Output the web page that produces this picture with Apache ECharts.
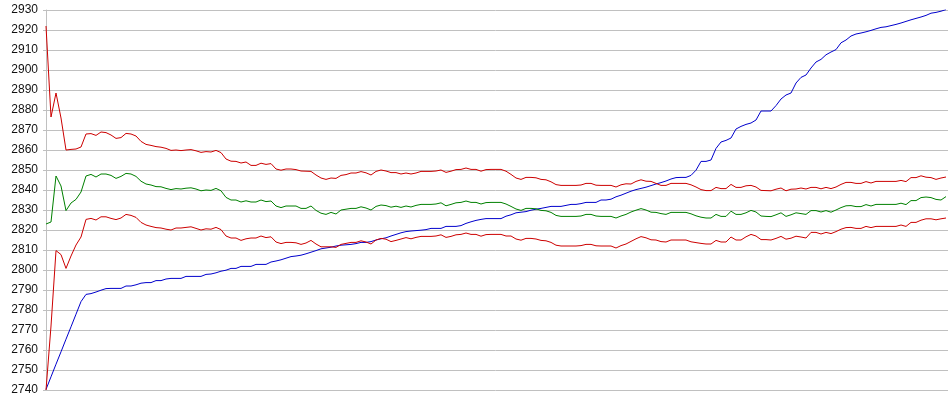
<!DOCTYPE html>
<html>
<head>
<meta charset="utf-8">
<script src="https://cdn.jsdelivr.net/npm/echarts@6/dist/echarts.min.js"></script>
<style>
html,body{margin:0;padding:0;background:#fff;}
#c{width:950px;height:415px;}
</style>
</head>
<body>
<div id="c"></div>
<script>
// y-axis ticks
const yTicks = [2740,2750,2760,2770,2780,2790,2800,2810,2820,2830,2840,2850,2860,2870,2880,2890,2900,2910,2920,2930];

// blue series
const blueValues = [
2740.3,2746.6,2752.9,2759.1,2765.4,2771.6,2777.9,2784.2,2787.8,2788.2,
2789,2789.9,2790.7,2790.8,2790.8,2790.8,2792,2792,2792.6,2793.4,
2793.7,2793.7,2794.7,2794.7,2795.5,2795.8,2795.8,2795.8,2796.8,2796.8,
2796.8,2796.8,2797.8,2798,2798.6,2799.4,2799.9,2800.8,2800.8,2801.8,
2801.8,2801.8,2802.8,2802.8,2802.8,2804,2804.5,2805.1,2805.9,2806.7,
2807,2807.4,2808.1,2808.9,2809.7,2810.6,2811,2811.4,2812,2812.4,
2812.6,2812.8,2813.2,2813.8,2813.8,2814.2,2815,2815.6,2816.1,2817,
2817.8,2818.6,2819.2,2819.5,2819.7,2819.9,2820.2,2820.8,2820.8,2820.8,
2821.8,2821.8,2821.8,2822.2,2823.3,2824.1,2824.8,2825.3,2825.7,2825.7,
2825.7,2825.7,2826.9,2827.6,2828.6,2828.9,2829.2,2829.9,2830.4,2830.8,
2831.3,2831.8,2831.8,2831.8,2832.3,2832.8,2832.8,2833.2,2833.8,2833.8,
2833.8,2835,2835,2835.4,2836.6,2837.4,2838.4,2839.4,2840.2,2840.8,
2841.4,2842.2,2843,2843.7,2844.5,2845.5,2846.2,2846.3,2846.3,2847.3,
2849.9,2854.3,2854.3,2855,2860.8,2864,2864.8,2866,2870.5,2871.8,
2872.8,2873.5,2875,2879.5,2879.5,2879.5,2882.2,2885.5,2887.5,2888.5,
2893.5,2896.3,2897.5,2901,2904,2905.3,2907.6,2909,2910.2,2913.6,
2915,2917,2918,2918.5,2919.1,2919.8,2920.6,2921.3,2921.6,2922.2,
2922.8,2923.5,2924.3,2925.1,2925.8,2926.5,2927.3,2928.4,2928.8,2929.4,
2930.2
];

// upper red series
const upperValues = [
2922,2876.5,2888.5,2876,2860,2860.3,2860.5,2861.5,2868,2868.2,
2867.3,2869,2868.7,2867.5,2865.8,2866.2,2868.3,2868,2867,2864.3,
2862.8,2862.3,2861.7,2861.4,2860.8,2859.8,2860,2859.7,2860,2860.2,
2859.6,2858.8,2859.2,2859,2859.8,2858.7,2855.5,2854.4,2854.3,2853.5,
2854,2852.3,2852.3,2853.4,2852.8,2853.2,2850.5,2849.9,2850.5,2850.5,
2850.2,2849.5,2849.4,2849.3,2847.5,2846,2845.3,2846,2845.8,2847.3,
2847.7,2848.5,2848.5,2849.2,2848.6,2847.5,2849.3,2850,2849.5,2848.7,
2848.7,2848,2848.5,2848,2848.5,2849.3,2849.3,2849.3,2849.5,2850,
2848.8,2849.4,2850.2,2850.3,2851,2850.3,2850.3,2849.4,2850.2,2850.3,
2850.3,2850.3,2849.4,2847.8,2846,2845.3,2846.3,2846.3,2846.1,2845.3,
2845.1,2844.1,2842.7,2842.3,2842.3,2842.3,2842.3,2842.5,2843.3,2843.3,
2842.4,2842.3,2842.3,2842.3,2841.5,2842.6,2843.1,2843,2844.3,2845.1,
2844.4,2844.3,2843.3,2842.3,2842.3,2843.3,2843.3,2843.3,2843.3,2842.6,
2841.5,2840.2,2839.7,2839.7,2841.3,2840.7,2840.7,2842.8,2841.3,2841.3,
2842.1,2842.3,2841.5,2839.8,2839.7,2839.6,2840.4,2841,2839.6,2840.4,
2840.5,2841,2840.5,2841.3,2841.3,2840.6,2841.3,2840.7,2841.5,2842.8,
2843.8,2843.8,2843.3,2843.3,2844.2,2843.5,2844.3,2844.3,2844.3,2844.3,
2844.3,2844.8,2844.2,2846.2,2846.2,2847.1,2846.4,2846.2,2845.3,2846,
2846.5
];

// green series
const greenValues = [
2823,2824,2847,2842,2829.7,2833.5,2835.3,2839,2847,2847.8,
2846.5,2848,2848,2847.3,2845.8,2846.8,2848.3,2848,2846.8,2844.4,
2843,2842.5,2841.7,2841.6,2840.8,2840.2,2840.7,2840.5,2840.9,2841.1,
2840.5,2839.6,2840,2839.8,2840.8,2839.6,2836.3,2835,2835,2834,
2834.6,2834,2834,2835,2834.2,2834.5,2832,2831.2,2832,2832,
2832,2830.8,2830.8,2832,2829.8,2828.4,2827.8,2828.8,2828,2830,
2830.4,2830.8,2830.8,2831.6,2831,2830,2831.8,2832.5,2832.2,2831.4,
2831.9,2831.3,2832,2831.5,2832.3,2832.8,2832.8,2832.8,2833,2833.6,
2832.1,2832.8,2833.6,2833.8,2834.5,2833.8,2833.8,2833,2833.7,2833.8,
2833.8,2833.8,2833,2831.8,2830.5,2829.8,2830.8,2830.8,2830.6,2829.8,
2829.6,2828.8,2827.3,2826.8,2826.8,2826.8,2826.8,2827,2827.8,2827.8,
2827,2826.8,2826.8,2826.8,2826,2827,2827.8,2829,2829.9,2830.7,
2830,2828.9,2828.8,2828.2,2827.8,2828.8,2828.8,2828.8,2828.8,2828.1,
2827.1,2826.4,2826,2826,2827.8,2826.8,2826.8,2829.4,2827.8,2827.8,
2828.6,2829.8,2829,2827,2826.8,2826.7,2827.6,2828.6,2826.8,2827.6,
2828.6,2828.2,2827.8,2829.7,2829.7,2829,2829.7,2828.9,2830,2831.2,
2832.1,2832.2,2831.7,2831.7,2832.7,2832,2832.8,2832.8,2832.8,2832.8,
2832.8,2833.4,2832.7,2834.7,2834.7,2836.2,2836.5,2836.2,2835.3,2835,
2836.7
];

// lower red series
const lowerValues = [
2740,2772,2809.7,2807.7,2800.8,2807,2812.5,2816.5,2825.3,2825.8,
2825,2826.6,2826.6,2825.8,2825.2,2826,2827.8,2827.3,2826.3,2823.8,
2822.5,2821.8,2821.2,2821,2820.4,2820,2821,2821,2821.3,2821.6,
2820.8,2820,2820.6,2820.4,2821.3,2820.2,2817,2816,2816,2814.8,
2815.6,2816,2816,2817,2816.2,2816.6,2814,2813.2,2813.8,2813.8,
2813.6,2812.8,2813.5,2814.8,2813,2811.6,2811.6,2811.6,2811.3,2812.8,
2813.3,2813.8,2813.8,2814.6,2814,2813,2815,2815.8,2815.4,2814.2,
2814.8,2815.5,2816.2,2815.6,2816.3,2816.8,2816.8,2816.8,2817,2817.6,
2816.3,2816.8,2817.6,2817.8,2818.5,2817.8,2817.8,2816.9,2817.7,2817.8,
2817.8,2817.8,2817,2817,2815.5,2814.9,2815.8,2815.8,2815.5,2814.8,
2814.6,2813.8,2812.4,2812,2812,2812,2812,2812.2,2812.8,2812.8,
2812.1,2812,2812,2812,2811,2812.2,2813,2814.3,2815.6,2816.7,
2816.1,2815.1,2815,2814.2,2814,2815,2815,2815,2815,2814.1,
2813.7,2813.3,2813,2813,2814.8,2814,2814,2816.5,2815,2815,
2816.6,2817.8,2817,2815.2,2815.2,2815,2815.8,2816.8,2815.4,2815.9,
2816.9,2816.5,2816,2818.8,2818.8,2818,2818.8,2818.2,2819.2,2820.4,
2821.2,2821.3,2820.8,2820.8,2821.8,2821.2,2821.8,2821.8,2821.8,2821.8,
2821.8,2822.5,2821.8,2823.8,2823.8,2824.9,2825.6,2825.6,2825.1,2825.6,
2826
];

function pairs(arr){ return arr.map((v,i)=>[i,v]); }

const chart = echarts.init(document.getElementById('c'), null, {renderer:'canvas'});
const lineSeries = (name, data, color) => ({
  name, type:'line', data: pairs(data), showSymbol:false, symbol:'none',
  lineStyle:{color, width:1}, itemStyle:{color}, animation:false, silent:true
});
chart.setOption({
  animation:false,
  backgroundColor:'#ffffff',
  grid:{left:43, right:2, top:10, bottom:25, containLabel:false},
  xAxis:{type:'value', min:-0.6, max:blueValues.length - 0.6,
    axisLine:{show:false}, axisTick:{show:false}, axisLabel:{show:false}, splitLine:{show:false}},
  yAxis:{type:'value', min:yTicks[0], max:yTicks[yTicks.length-1], interval:10,
    axisLine:{show:true, lineStyle:{color:'#c0c0c0', width:1}},
    axisTick:{show:false},
    axisLabel:{show:true, margin:5, color:'#111', fontSize:12, fontFamily:'Liberation Sans, Arial, sans-serif',
      formatter: v => String(v)},
    splitLine:{show:true, lineStyle:{color:'#c0c0c0', width:1}}},
  series:[
    lineSeries('Rating', blueValues, '#0000cc'),
    lineSeries('Lower', lowerValues, '#cc0000'),
    lineSeries('Estimate', greenValues, '#008000'),
    lineSeries('Upper', upperValues, '#cc0000')
  ]
});
</script>
</body>
</html>
